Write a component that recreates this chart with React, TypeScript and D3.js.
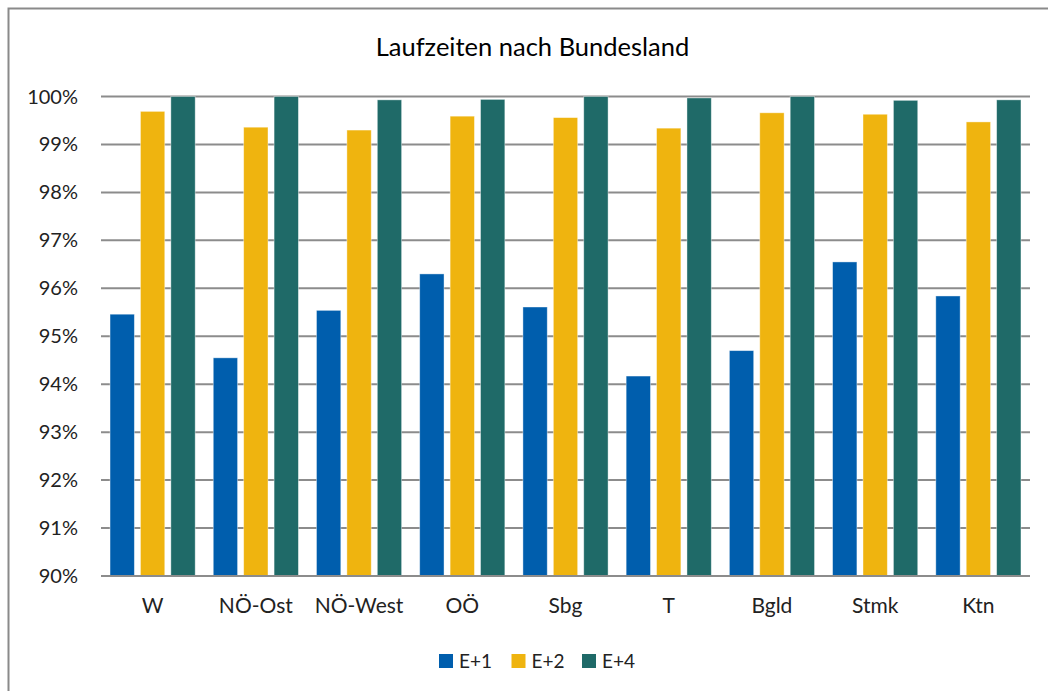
import React from "react";
import * as d3 from "d3";

const categories = ["W", "NÖ-Ost", "NÖ-West", "OÖ", "Sbg", "T", "Bgld", "Stmk", "Ktn"];
const seriesNames = ["E+1", "E+2", "E+4"];
const e1 = [95.46, 94.55, 95.54, 96.3, 95.61, 94.17, 94.7, 96.55, 95.84];
const e2 = [99.69, 99.36, 99.3, 99.59, 99.56, 99.34, 99.66, 99.63, 99.47];
const e4 = [100, 100, 99.93, 99.94, 100, 99.97, 100, 99.92, 99.93];
const yTicks = [90, 91, 92, 93, 94, 95, 96, 97, 98, 99, 100];
const colors = ["#005EAD", "#EFB40F", "#1F6A68"];

const W = 1048;
const H = 691;
const plot = { left: 101, right: 1030, top: 96.5, bottom: 576 };
const font = "Lato, 'Open Sans', sans-serif";

export default function App() {
  const series = [e1, e2, e4];
  const x = d3
    .scaleBand<string>()
    .domain(categories)
    .range([plot.left, plot.right])
    .paddingInner(0.175)
    .paddingOuter(0.0875);
  const xs = d3
    .scaleBand<string>()
    .domain(seriesNames)
    .range([0, x.bandwidth()])
    .paddingInner(0.2);
  const y = d3.scaleLinear().domain([90, 100]).range([plot.bottom, plot.top]);

  // legend layout
  const legendX = [439, 511.5, 582];

  return (
    <svg
      width={W}
      height={H}
      style={{ position: "absolute", left: 0, top: 0, background: "#fff" }}
    >
      <rect x={8.5} y={8.5} width={W + 10} height={H + 10} fill="#fff" stroke="#8a8a8a" strokeWidth={2} />
      <text x={532.5} y={56} textAnchor="middle" fontFamily={font} fontSize={25.5} fill="#000">
        Laufzeiten nach Bundesland
      </text>

      {yTicks.map(t => (
        <g key={t}>
          <line x1={plot.left} x2={plot.right} y1={y(t)} y2={y(t)} stroke="#8c8c8c" strokeWidth={2} />
          <text x={78} y={y(t) + 7} textAnchor="end" fontFamily={font} fontSize={20} fill="#222">
            {d3.format(".0%")(t / 100)}
          </text>
        </g>
      ))}

      {categories.map((c, i) => (
        <g key={c} transform={`translate(${x(c)},0)`}>
          {series.map((s, j) => (
            <rect
              key={j}
              x={xs(seriesNames[j])}
              y={y(s[i])}
              width={xs.bandwidth()}
              height={y(90) - y(s[i])}
              fill={colors[j]}
              stroke="#ffffff"
              strokeOpacity={0.5}
              strokeWidth={0.8}
            />
          ))}
          <text
            x={x.bandwidth() / 2}
            y={613}
            textAnchor="middle"
            fontFamily={font}
            fontSize={21}
            fill="#222"
          >
            {c}
          </text>
        </g>
      ))}

      <line x1={plot.left} x2={plot.right} y1={y(90)} y2={y(90)} stroke="#8c8c8c" strokeWidth={2} />

      {seriesNames.map((n, j) => (
        <g key={n} transform={`translate(${legendX[j]},654)`}>
          <rect width={14} height={14} fill={colors[j]} />
          <text x={20} y={13.5} fontFamily={font} fontSize={19} fill="#222">
            {n}
          </text>
        </g>
      ))}
    </svg>
  );
}
